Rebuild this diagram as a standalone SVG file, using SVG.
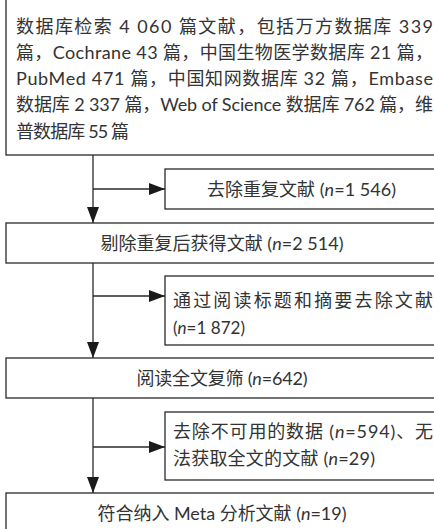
<svg xmlns="http://www.w3.org/2000/svg" width="434" height="529" viewBox="0 0 434 529">
<style>
.box{fill:#fff;stroke:#2a2a2a;stroke-width:1.3}
.t{font-family:Lato,"Noto Sans CJK SC",sans-serif;font-size:18px;fill:#333}
.c{text-anchor:middle}
.i{font-style:italic}
.ln{fill:none;stroke:#2a2a2a;stroke-width:1.3}
</style>
<defs>
<marker id="ah" markerUnits="userSpaceOnUse" markerWidth="17" markerHeight="12" refX="16" refY="6" orient="auto">
<path d="M0,0 L16,6 L0,12 z" fill="#1a1a1a"/>
</marker>
</defs>
<rect width="434" height="529" fill="#fff"/>
<g id="n1">
<rect class="box" x="6" y="-5" width="432" height="160"/>
<text class="t" x="16" y="32.5" textLength="417" lengthAdjust="spacing">数据库检索 4 060 篇文献，包括万方数据库 339</text>
<text class="t" x="16" y="58.8" textLength="417" lengthAdjust="spacing">篇，Cochrane 43 篇，中国生物医学数据库 21 篇，</text>
<text class="t" x="16" y="85.1" textLength="417" lengthAdjust="spacing">PubMed 471 篇，中国知网数据库 32 篇，Embase</text>
<text class="t" x="16" y="111.4" textLength="417" lengthAdjust="spacing">数据库 2 337 篇，Web of Science 数据库 762 篇，维</text>
<text class="t" x="16" y="137.8" textLength="113" lengthAdjust="spacing">普数据库 55 篇</text>
</g>
<g id="s1">
<rect class="box" x="165" y="169" width="273" height="40"/>
<text class="t c" x="301.5" y="195.5" textLength="189" lengthAdjust="spacing">去除重复文献 (<tspan class="i">n</tspan>=1 546)</text>
</g>
<g id="n2">
<rect class="box" x="6" y="223" width="432" height="40"/>
<text class="t c" x="222" y="250" textLength="243" lengthAdjust="spacing">剔除重复后获得文献 (<tspan class="i">n</tspan>=2 514)</text>
</g>
<g id="s2">
<rect class="box" x="165" y="276" width="273" height="69"/>
<text class="t" x="173" y="306.5" textLength="260" lengthAdjust="spacing">通过阅读标题和摘要去除文献</text>
<text class="t" x="173" y="333.5" textLength="72" lengthAdjust="spacingAndGlyphs">(<tspan class="i">n</tspan>=1 872)</text>
</g>
<g id="n3">
<rect class="box" x="6" y="358" width="432" height="40"/>
<text class="t c" x="222" y="384.5" textLength="171" lengthAdjust="spacing">阅读全文复筛 (<tspan class="i">n</tspan>=642)</text>
</g>
<g id="s3">
<rect class="box" x="165" y="412" width="273" height="68"/>
<text class="t" x="173" y="438" textLength="260" lengthAdjust="spacing">去除不可用的数据 (<tspan class="i">n</tspan>=594)、无</text>
<text class="t" x="173" y="465" textLength="202" lengthAdjust="spacing">法获取全文的文献 (<tspan class="i">n</tspan>=29)</text>
</g>
<g id="n4">
<rect class="box" x="6" y="493" width="432" height="40"/>
<text class="t c" x="222" y="520" textLength="249" lengthAdjust="spacing">符合纳入 Meta 分析文献 (<tspan class="i">n</tspan>=19)</text>
</g>
<g id="connectors">
<path class="ln" d="M93,155 V223" marker-end="url(#ah)"/>
<path class="ln" d="M93,189 H165" marker-end="url(#ah)"/>
<path class="ln" d="M93,263 V358" marker-end="url(#ah)"/>
<path class="ln" d="M93,296 H165" marker-end="url(#ah)"/>
<path class="ln" d="M93,398 V493" marker-end="url(#ah)"/>
<path class="ln" d="M93,447 H165" marker-end="url(#ah)"/>
</g>
</svg>
